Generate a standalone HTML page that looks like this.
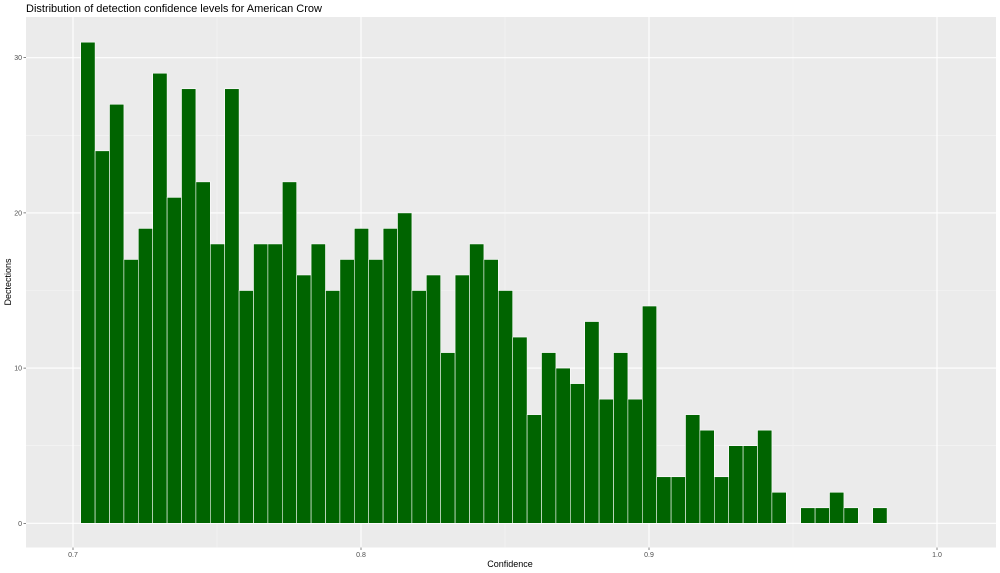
<!DOCTYPE html>
<html><head><meta charset="utf-8"><style>
html,body{margin:0;padding:0;background:#fff;width:1000px;height:573px;overflow:hidden}
svg text{font-family:"Liberation Sans",sans-serif}
</style></head><body>
<svg id="s" width="1000" height="573" xmlns="http://www.w3.org/2000/svg">
<rect x="0" y="0" width="1000" height="573" fill="#fff"/>
<rect x="26" y="17" width="970" height="530.5" fill="#ebebeb"/>
<g id="grid"></g>
<g id="bars"></g>
<g id="ticks"></g>
<text x="26" y="12" font-size="11" fill="#000">Distribution of detection confidence levels for American Crow</text>
<text x="510" y="567" font-size="9" fill="#000" text-anchor="middle">Confidence</text>
<text transform="translate(11,282) rotate(-90)" font-size="9" fill="#000" text-anchor="middle">Dectections</text>
</svg>
<script>
var NS="http://www.w3.org/2000/svg";
function el(p,t,a){var e=document.createElementNS(NS,t);for(var k in a)e.setAttribute(k,a[k]);document.getElementById(p).appendChild(e);return e;}
var y0=523.3,u=15.52;
// minor gridlines
[0.65,0.75,0.85,0.95].forEach(function(v){var x=73+(v-0.7)*2880;if(x>26&&x<996)el("grid","line",{x1:x,x2:x,y1:17,y2:547.5,stroke:"#f5f5f5","stroke-width":0.6});});
[5,15,25].forEach(function(v){var y=y0-v*u;el("grid","line",{x1:26,x2:996,y1:y,y2:y,stroke:"#f5f5f5","stroke-width":0.6});});
[0.7,0.8,0.9,1.0].forEach(function(v){var x=73+(v-0.7)*2880;el("grid","line",{x1:x,x2:x,y1:17,y2:547.5,stroke:"#fff","stroke-width":1.1});
 el("ticks","line",{x1:x,x2:x,y1:547.5,y2:550,stroke:"#333","stroke-width":0.6});
 var t=el("ticks","text",{x:x,y:557,"font-size":"7","fill":"#4d4d4d","text-anchor":"middle"});t.textContent=v.toFixed(1);});
[0,10,20,30].forEach(function(v){var y=y0-v*u;el("grid","line",{x1:26,x2:996,y1:y,y2:y,stroke:"#fff","stroke-width":1.1});
 el("ticks","line",{x1:23.5,x2:26,y1:y,y2:y,stroke:"#333","stroke-width":0.6});
 var t=el("ticks","text",{x:22,y:y+2.5,"font-size":"7","fill":"#4d4d4d","text-anchor":"end"});t.textContent=v;});
var d=[31,24,27,17,19,29,21,28,22,18,28,15,18,18,22,16,18,15,17,19,17,19,20,15,16,11,16,18,17,15,12,7,11,10,9,13,8,11,8,14,3,3,7,6,3,5,5,6,2,0,1,1,2,1,0,1];
d.forEach(function(c,i){if(!c)return;var x=80.7+i*14.4;el("bars","rect",{x:x,y:y0-c*u,width:14.4,height:c*u,fill:"#006400",stroke:"#fff","stroke-width":0.6});});
</script>
</body></html>
